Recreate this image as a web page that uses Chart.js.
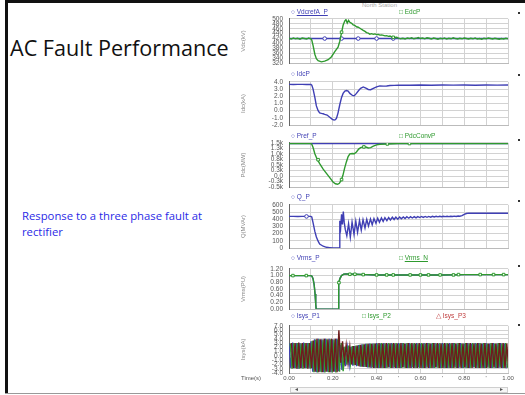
<!DOCTYPE html>
<html>
<head>
<meta charset="utf-8">
<script src="https://cdn.jsdelivr.net/npm/chart.js@4.4.1/dist/chart.umd.min.js"></script>
<style>
  html, body { margin: 0; padding: 0; background: #fff; }
  #slide { position: relative; width: 525px; height: 395px; overflow: hidden; font-family: "Liberation Sans", Arial, sans-serif; }
  .bar { position: absolute; background: #111; }
  .title { position: absolute; left: 10px; top: 33px; font: 21.6px "Open Sans"; color: #111; white-space: nowrap; }
  .note { position: absolute; left: 22px; top: 208px; font: 11.3px "Open Sans"; color: #2a2ae6; line-height: 16px; }
  canvas { position: absolute; }
  .hdr { position: absolute; font: 6.5px "Liberation Sans"; white-space: nowrap; z-index: 2; }
  .blue { color: #3f3fb4; }
  .green { color: #2f9a2f; }
  .red { color: #c04040; }
  .dot { position: absolute; left: 518px; width: 2px; height: 2px; background: #333; z-index: 2; }
  .small { position: absolute; font: 6px "Liberation Sans"; color: #777; white-space: nowrap; z-index: 2; }
  .scroll { position: absolute; left: 290px; top: 387px; width: 216px; height: 4px; border: 1px solid #cfcfcf; background: #f6f6f6; }
</style>
</head>
<body>
<div id="slide">
  <div class="bar" style="left:5px;top:0;width:520px;height:3px;"></div>
  <div class="bar" style="left:5px;top:0;width:3px;height:394px;"></div>
  <div class="bar" style="left:5px;top:393px;width:520px;height:1px;background:#999;"></div>

  <div class="title">AC Fault Performance</div>
  <div class="note">Response to a three phase fault at<br>rectifier</div>

  <div class="small" style="left:362px;top:2px;color:#aaa;">North Station</div>

  <div class="hdr blue" style="left:291px;top:8px;">○ <u>VdcrefA_P</u></div>
  <div class="hdr green" style="left:399px;top:8px;">□ EdcP</div>
  <div class="hdr blue" style="left:291px;top:70px;">○ IdcP</div>
  <div class="hdr blue" style="left:291px;top:132px;">○ Pref_P</div>
  <div class="hdr green" style="left:399px;top:132px;">□ PdcConvP</div>
  <div class="hdr blue" style="left:291px;top:193px;">○ Q_P</div>
  <div class="hdr blue" style="left:291px;top:254px;">○ Vrms_P</div>
  <div class="hdr green" style="left:399px;top:254px;">□ <u>Vrms_N</u></div>
  <div class="hdr blue" style="left:291px;top:312px;">○ Isys_P1</div>
  <div class="hdr green" style="left:362px;top:312px;">□ Isys_P2</div>
  <div class="hdr red" style="left:436px;top:312px;">△ Isys_P3</div>

  <div class="dot" style="top:12px;"></div>
  <div class="dot" style="top:74px;"></div>
  <div class="dot" style="top:139px;"></div>
  <div class="dot" style="top:200px;"></div>
  <div class="dot" style="top:265px;"></div>
  <div class="dot" style="top:324px;"></div>

  <div class="small" style="left:241px;top:375px;color:#555;">Time(s)</div>
  <div class="scroll"></div>
  <div class="small" style="left:295px;top:385px;color:#555;">◂</div>
  <div class="small" style="left:500px;top:385px;color:#555;">▸</div>
</div>

<script>
// ---- recorded traces: [time (s), value] ----
const vdcRef = [[0, 420], [1, 420]];
const edcP = [
  [0, 421], [0.01, 418], [0.02, 422], [0.03, 419], [0.04, 421], [0.05, 417], [0.06, 422], [0.07, 420], [0.08, 418], [0.09, 422], [0.1, 419],
  [0.104, 414], [0.110, 391], [0.118, 356], [0.125, 338], [0.133, 330], [0.148, 325], [0.163, 328], [0.179, 334], [0.194, 346],
  [0.209, 367], [0.224, 385], [0.232, 409], [0.240, 444], [0.247, 474], [0.255, 492], [0.260, 497], [0.266, 483], [0.272, 494],
  [0.278, 486], [0.286, 482], [0.293, 476], [0.300, 474], [0.308, 468], [0.316, 466], [0.324, 462], [0.332, 457], [0.339, 453],
  [0.347, 449], [0.354, 444], [0.362, 442], [0.369, 438], [0.377, 440], [0.385, 437], [0.392, 439], [0.400, 436], [0.408, 437],
  [0.415, 434], [0.423, 435], [0.431, 433], [0.438, 431], [0.446, 432], [0.454, 429], [0.461, 430], [0.469, 427], [0.476, 427],
  [0.484, 424], [0.492, 425], [0.50, 422],
  [0.51, 419], [0.52, 421], [0.53, 418], [0.54, 422], [0.55, 420], [0.56, 423], [0.57, 419], [0.58, 421], [0.59, 424], [0.60, 420],
  [0.61, 422], [0.62, 419], [0.63, 423], [0.64, 421], [0.65, 418], [0.66, 422], [0.67, 420], [0.68, 417], [0.69, 421], [0.70, 419],
  [0.71, 422], [0.72, 418], [0.73, 421], [0.74, 419], [0.75, 423], [0.76, 420], [0.77, 418], [0.78, 421], [0.79, 419], [0.80, 422],
  [0.81, 420], [0.82, 418], [0.83, 421], [0.84, 419], [0.85, 422], [0.86, 418], [0.87, 420], [0.88, 417], [0.89, 421], [0.90, 419],
  [0.91, 422], [0.92, 420], [0.93, 418], [0.94, 421], [0.95, 419], [0.96, 417], [0.97, 420], [0.98, 418], [0.99, 421], [1.00, 419]
];

const idcP = [
  [0, 3.66], [0.02, 3.64], [0.04, 3.66], [0.06, 3.65], [0.08, 3.64], [0.1, 3.65], [0.104, 3.55], [0.110, 3.0], [0.118, 1.85],
  [0.125, 0.67], [0.133, 0.0], [0.140, -0.3], [0.148, -0.38], [0.156, -0.43], [0.163, -0.5], [0.174, -0.6], [0.186, -0.9],
  [0.198, -1.2], [0.206, -1.3], [0.212, -1.25], [0.217, -1.05], [0.224, -0.3], [0.232, 0.86], [0.240, 1.85], [0.247, 2.4],
  [0.255, 2.72], [0.263, 2.8], [0.270, 2.72], [0.278, 2.4], [0.290, 2.12], [0.298, 2.08], [0.308, 2.4], [0.318, 2.8],
  [0.327, 3.1], [0.339, 3.3], [0.351, 3.12], [0.362, 2.95], [0.373, 2.92], [0.385, 3.1], [0.400, 3.32], [0.415, 3.45],
  [0.431, 3.42], [0.446, 3.43], [0.461, 3.5], [0.48, 3.52], [0.5, 3.54], [0.55, 3.53], [0.6, 3.56], [0.65, 3.54],
  [0.7, 3.57], [0.75, 3.55], [0.8, 3.56], [0.85, 3.54], [0.9, 3.57], [0.95, 3.55], [1.0, 3.56]
];

const prefP = [[0, 1470], [1, 1470]];
const pdcConvP = [
  [0, 1470], [0.05, 1468], [0.1, 1470], [0.104, 1440], [0.110, 1290], [0.118, 1010], [0.128, 770], [0.140, 560], [0.156, 310],
  [0.171, 120], [0.186, -70], [0.201, -270], [0.212, -350], [0.222, -372], [0.230, -330], [0.238, -200], [0.246, 20],
  [0.254, 360], [0.262, 640], [0.270, 880], [0.278, 1005], [0.289, 1022], [0.298, 1012], [0.308, 1090], [0.318, 1220],
  [0.327, 1285], [0.339, 1320], [0.351, 1312], [0.362, 1272], [0.373, 1285], [0.385, 1350], [0.400, 1410], [0.415, 1440],
  [0.446, 1452], [0.476, 1462], [0.5, 1470], [0.6, 1468], [0.7, 1470], [0.8, 1469], [0.9, 1470], [1, 1470]
];

const qP = [
  [0, 440], [0.02, 441], [0.04, 439], [0.06, 441], [0.08, 440], [0.1, 440], [0.104, 432], [0.110, 350], [0.118, 232],
  [0.125, 155], [0.133, 96], [0.140, 57], [0.156, 26], [0.171, 11], [0.186, 7], [0.201, 3], [0.216, 2], [0.229, 3],
  [0.232, 380], [0.236, 290], [0.240, 470], [0.244, 330], [0.248, 508], [0.252, 360], [0.257, 260], [0.264, 170],
  [0.272, 340], [0.280, 150], [0.288, 360], [0.297, 190], [0.305, 375], [0.313, 220], [0.322, 385], [0.330, 250],
  [0.338, 395], [0.347, 280], [0.355, 400], [0.363, 305], [0.372, 405], [0.380, 325], [0.388, 410], [0.397, 345],
  [0.405, 415], [0.413, 360], [0.422, 420], [0.430, 372], [0.438, 423], [0.447, 382], [0.455, 425], [0.463, 390],
  [0.472, 428], [0.480, 397], [0.488, 430], [0.497, 402], [0.505, 432], [0.513, 407], [0.522, 433], [0.530, 411],
  [0.538, 435], [0.547, 415], [0.555, 436], [0.563, 418], [0.572, 437], [0.580, 421], [0.588, 438], [0.597, 424],
  [0.605, 439], [0.613, 426], [0.622, 440], [0.630, 428], [0.638, 440], [0.647, 430], [0.655, 441], [0.663, 432],
  [0.672, 441], [0.680, 434], [0.688, 442], [0.697, 435], [0.705, 442], [0.713, 437], [0.722, 443], [0.730, 438],
  [0.738, 443], [0.747, 439], [0.755, 444], [0.763, 440], [0.772, 445], [0.780, 443], [0.790, 450], [0.800, 468],
  [0.810, 480], [0.820, 485], [0.84, 486], [0.86, 484], [0.88, 486], [0.90, 485], [0.92, 486], [0.94, 484],
  [0.96, 486], [0.98, 485], [1.0, 485]
];

const vrmsP = [
  [0, 1.0], [0.05, 1.0], [0.1, 1.0], [0.105, 0.98], [0.110, 0.90], [0.115, 0.72], [0.119, 0.45], [0.122, 0.15], [0.124, 0],
  [0.224, 0], [0.226, 0.45], [0.228, 0.79], [0.233, 0.92], [0.240, 1.0], [0.250, 1.04], [0.26, 1.05], [0.3, 1.04],
  [0.35, 1.03], [0.4, 1.02], [0.5, 1.02], [0.6, 1.02], [0.7, 1.02], [0.8, 1.03], [0.9, 1.03], [1.0, 1.03]
];
const vrmsN = [
  [0, 1.0], [0.05, 1.0], [0.1, 1.0], [0.105, 0.98], [0.110, 0.90], [0.115, 0.72], [0.119, 0.45], [0.122, 0.15], [0.124, 0],
  [0.224, 0], [0.226, 0.45], [0.228, 0.79], [0.233, 0.92], [0.240, 1.0], [0.250, 1.04], [0.26, 1.05], [0.3, 1.04],
  [0.35, 1.03], [0.4, 1.02], [0.5, 1.02], [0.6, 1.02], [0.7, 1.02], [0.8, 1.03], [0.9, 1.03], [1.0, 1.03]
];

// trace markers as the plotter drops them along each curve
const vdcRefMarks = [[0.163, 420], [0.240, 420], [0.316, 420], [0.400, 420], [0.476, 420]];
const edcPMarks = [[0.240, 446], [0.476, 425]];
const pdcMarks = [[0.133, 740], [0.240, -160], [0.342, 1318], [0.449, 1452], [0.55, 1470]];
const qPMarks = [[0.08, 440]];
const vrmsNMarks = [
  [0.018, 1.0], [0.079, 1.0], [0.228, 0.79], [0.278, 1.04], [0.301, 1.04], [0.339, 1.03], [0.40, 1.02], [0.446, 1.02],
  [0.476, 1.02], [0.553, 1.02], [0.60, 1.02], [0.637, 1.02], [0.69, 1.02], [0.751, 1.02], [0.774, 1.03], [0.873, 1.03],
  [0.934, 1.03], [0.98, 1.03]
];

// system currents: one peak per half cycle (60 Hz), one row = 0.1 s
const HALF_CYCLE = 1 / 120;
const isysP1 = [
  3.0, -2.9, 3.1, -2.9, 3.0, -3.0, 3.0, -2.9, 3.1, -2.9, 3.0, -2.9,
  3.4, -3.7, 3.9, -3.8, 4.0, -3.7, 3.9, -3.8, 4.0, -3.7, 4.0, -3.8,
  3.9, -3.7, 4.0, -3.6, 2.6, -3.3, 2.0, -2.4, 1.9, -2.1, 2.1, -2.3,
  2.3, -2.4, 2.5, -2.5, 2.7, -2.6, 2.8, -2.7, 2.9, -2.8, 2.9, -2.8,
  3.0, -2.8, 2.9, -2.8, 3.0, -2.8, 2.9, -2.7, 3.0, -2.8, 2.9, -2.8,
  3.0, -2.8, 3.0, -2.7, 2.9, -2.8, 3.0, -2.8, 2.9, -2.8, 3.0, -2.7,
  2.9, -2.8, 3.0, -2.8, 3.0, -2.8, 2.9, -2.8, 3.0, -2.7, 2.9, -2.8,
  3.0, -2.8, 2.9, -2.8, 3.0, -2.8, 3.0, -2.7, 2.9, -2.8, 3.0, -2.8,
  2.9, -2.8, 3.0, -2.8, 2.9, -2.7, 3.0, -2.8, 3.0, -2.8, 2.9, -2.8,
  3.0, -2.7, 2.9, -2.8, 3.0, -2.8, 2.9, -2.8, 3.0, -2.8, 2.9, -2.9
];
const isysP2 = [
  2.9, -3.0, 3.0, -2.9, 3.0, -3.0, 2.9, -3.0, 3.0, -2.9, 3.0, -3.0,
  3.5, -3.8, 3.8, -3.9, 3.9, -3.8, 3.8, -3.9, 3.9, -3.8, 3.9, -3.9,
  3.8, -3.9, 3.9, -3.7, 3.0, -3.6, 2.2, -2.0, 2.4, -1.8, 2.3, -2.2,
  2.4, -2.3, 2.6, -2.5, 2.7, -2.6, 2.8, -2.7, 2.9, -2.7, 2.9, -2.8,
  2.9, -2.8, 3.0, -2.8, 2.9, -2.8, 3.0, -2.8, 2.9, -2.7, 3.0, -2.8,
  2.9, -2.8, 3.0, -2.8, 3.0, -2.8, 2.9, -2.7, 3.0, -2.8, 2.9, -2.8,
  3.0, -2.8, 2.9, -2.7, 3.0, -2.8, 3.0, -2.8, 2.9, -2.8, 3.0, -2.8,
  2.9, -2.8, 3.0, -2.8, 2.9, -2.8, 3.0, -2.8, 3.0, -2.7, 2.9, -2.8,
  3.0, -2.8, 2.9, -2.8, 3.0, -2.7, 2.9, -2.8, 3.0, -2.8, 3.0, -2.8,
  2.9, -2.8, 3.0, -2.8, 2.9, -2.8, 3.0, -2.7, 2.9, -2.8, 3.0, -2.8
];
const isysP3 = [
  3.0, -2.9, 3.0, -3.0, 3.1, -2.9, 3.0, -2.9, 3.0, -3.0, 3.0, -2.9,
  3.6, -3.7, 4.0, -3.8, 3.9, -3.8, 4.0, -3.7, 3.9, -3.8, 4.0, -3.7,
  4.0, -3.8, 6.0, -1.6, 3.4, -1.2, 2.6, -1.6, 2.2, -2.0, 2.3, -2.1,
  2.4, -2.4, 2.6, -2.5, 2.7, -2.6, 2.8, -2.7, 2.8, -2.8, 2.9, -2.8,
  3.0, -2.8, 2.9, -2.8, 3.0, -2.7, 2.9, -2.8, 3.0, -2.8, 2.9, -2.8,
  3.0, -2.7, 2.9, -2.8, 3.0, -2.8, 3.0, -2.8, 2.9, -2.8, 3.0, -2.8,
  2.9, -2.8, 3.0, -2.8, 2.9, -2.8, 3.0, -2.7, 3.0, -2.8, 2.9, -2.8,
  3.0, -2.8, 2.9, -2.8, 3.0, -2.8, 2.9, -2.8, 3.0, -2.8, 2.9, -2.7,
  3.0, -2.8, 3.0, -2.8, 2.9, -2.8, 3.0, -2.8, 2.9, -2.8, 3.0, -2.8,
  2.9, -2.8, 3.0, -2.7, 2.9, -2.8, 3.0, -2.8, 3.0, -2.8, 2.9, -2.8
];

const BLUE = '#3f3fb4';
const GREEN = '#2f9a2f';
const DARKRED = '#6e1c1c';
const GRID = '#d2d2d2';
const CANVAS_LEFT = 236;
const CANVAS_WIDTH = 284;

function pts(pairs) {
  return pairs.map(([x, y]) => ({ x, y }));
}

function halfCyclePts(peaks, shift) {
  return peaks.map((y, i) => ({ x: i * HALF_CYCLE + shift, y }));
}

function line(data, color) {
  return { data, borderColor: color, borderWidth: 1.4, pointRadius: 0, tension: 0, fill: false };
}

function marks(pairs, color, style) {
  return {
    data: pts(pairs), showLine: false, pointStyle: style, pointRadius: 1.8,
    pointBorderWidth: 1, pointBorderColor: color, pointBackgroundColor: '#fff'
  };
}

// one stacked strip; top/height are the plot area in page pixels
function plotPanel(top, height, y, yTitle, datasets, withTime) {
  const padTop = 6;
  const axisH = withTime ? 14 : 0;
  const canvas = document.createElement('canvas');
  canvas.width = CANVAS_WIDTH;
  canvas.height = height + padTop + 6 + axisH;
  canvas.style.left = CANVAS_LEFT + 'px';
  canvas.style.top = (top - padTop) + 'px';
  document.getElementById('slide').appendChild(canvas);

  return new Chart(canvas.getContext('2d'), {
    type: 'line',
    data: { datasets },
    options: {
      responsive: false,
      animation: false,
      devicePixelRatio: 1,
      layout: { padding: { top: padTop, bottom: 6, left: 0, right: 12 } },
      plugins: { legend: { display: false }, tooltip: { enabled: false } },
      scales: {
        x: {
          type: 'linear', min: 0, max: 1,
          afterFit: s => { s.height = axisH; },
          grid: { color: GRID, drawTicks: false },
          border: { color: '#bbb' },
          ticks: {
            display: withTime, stepSize: 0.1, autoSkip: false, maxRotation: 0, padding: 2,
            color: '#555', font: { size: 6, family: 'Liberation Sans' },
            callback: (v, i) => (i % 2 === 0 ? v.toFixed(2) : "'")
          }
        },
        y: {
          min: y.min, max: y.max,
          afterFit: s => { s.width = 53; },
          grid: { color: GRID, drawTicks: false },
          border: { color: '#666' },
          title: { display: true, text: yTitle, color: '#888', padding: 4, font: { size: 6, family: 'Liberation Sans' } },
          ticks: {
            stepSize: y.step, autoSkip: false, maxTicksLimit: 50, padding: 6,
            color: '#555', font: { size: 6.5, family: 'Liberation Sans' },
            callback: y.fmt
          }
        }
      }
    }
  });
}

const pfmt = v => (v === 0 ? '0.0' : (v / 1000).toFixed(1) + 'k');

plotPanel(15, 52, { min: 320, max: 500, step: 20, fmt: v => String(v) }, 'Vdc(kV)',
  [marks(edcPMarks, GREEN, 'rect'), line(pts(edcP), GREEN), marks(vdcRefMarks, BLUE, 'circle'), line(pts(vdcRef), BLUE)]);
plotPanel(78, 51, { min: -2, max: 4, step: 1, fmt: v => v.toFixed(1) }, 'Idc(kA)',
  [line(pts(idcP), BLUE)]);
plotPanel(139, 52, { min: -500, max: 1500, step: 250, fmt: pfmt }, 'Pdc(MW)',
  [marks(pdcMarks, GREEN, 'rect'), line(pts(pdcConvP), GREEN), line(pts(prefP), BLUE)]);
plotPanel(201, 51, { min: 0, max: 600, step: 100, fmt: v => String(v) }, 'Q(MVAr)',
  [marks(qPMarks, BLUE, 'circle'), line(pts(qP), BLUE)]);
plotPanel(265, 48, { min: 0, max: 1.2, step: 0.2, fmt: v => v.toFixed(2) }, 'Vrms(PU)',
  [marks(vrmsNMarks, GREEN, 'rect'), line(pts(vrmsN), GREEN), line(pts(vrmsP), BLUE)]);
plotPanel(322, 51, { min: -4, max: 7, step: 1, fmt: v => v.toFixed(1) }, 'Isys(kA)',
  [line(halfCyclePts(isysP3, 2 / 180), DARKRED),
   line(halfCyclePts(isysP2, 1 / 180), GREEN),
   line(halfCyclePts(isysP1, 0), BLUE)], true);
</script>
</body>
</html>
